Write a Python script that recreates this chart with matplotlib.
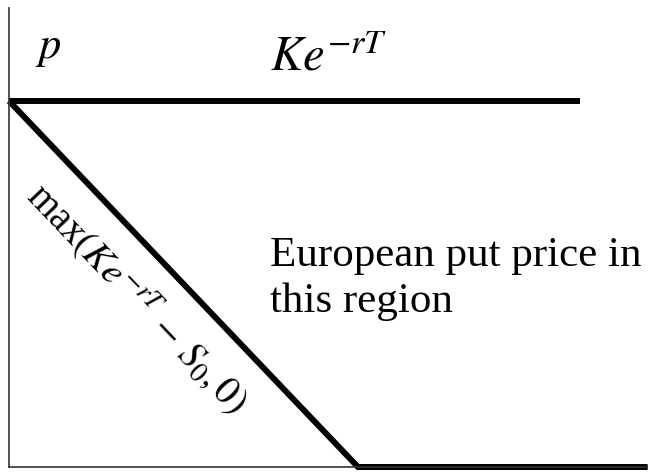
import numpy as np
import matplotlib.pyplot as plt

plt.rcParams['font.family'] = ['Liberation Serif', 'DejaVu Serif']
plt.rcParams['mathtext.fontset'] = 'stix'

# discounted strike set to 1, stock price axis in the same units
k_disc = 1.0
s0 = [0.0, 1.0, 1.83]
payoff = [max(k_disc - s, 0.0) for s in s0]
upper_s = [0.0, 1.636]
upper_p = [k_disc, k_disc]

fig = plt.figure(figsize=(6.48, 4.72), dpi=100)
ax = fig.add_axes([9 / 648, 5 / 472, 639 / 648, 459 / 472])
ax.set_xlim(0, 1.831)
ax.set_ylim(0, 1.254)

ax.plot(upper_s, upper_p, color='black', lw=4.3, solid_capstyle='butt', clip_on=False)
ax.plot(s0, payoff, color='black', lw=4.3, solid_capstyle='butt', solid_joinstyle='miter', clip_on=False)

for side in ['top', 'right']:
    ax.spines[side].set_visible(False)
for side in ['left', 'bottom']:
    ax.spines[side].set_color('#333333')
    ax.spines[side].set_linewidth(1.2)
ax.set_xticks([])
ax.set_yticks([])

ax.text(0.112, 1.142, r'$p$', fontsize=32, ha='center', va='center')
ax.text(0.915, 1.118, r'$Ke^{-rT}$', fontsize=35, ha='center', va='center')

ang = -np.degrees(np.arctan(366 / 349))
ax.text(0.367, 0.46, r'max$(Ke^{-rT}\,-\,S_0,0)$', fontsize=28, rotation=ang,
        rotation_mode='anchor', ha='center', va='center')

ax.text(0.748, 0.515, 'European put price in\nthis region', fontsize=31,
        ha='left', va='center', linespacing=1.25)

fig.savefig('out.png', dpi=100)
